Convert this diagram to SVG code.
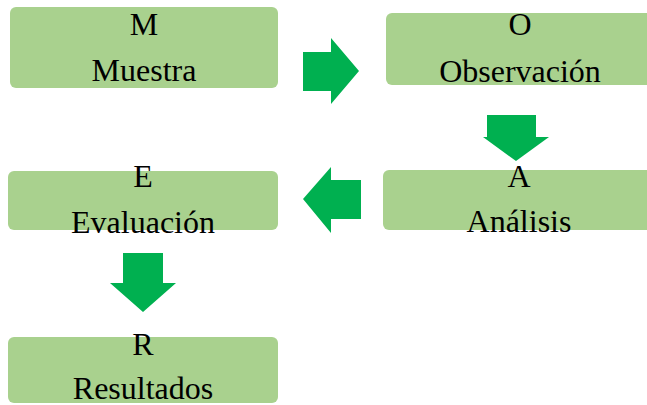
<svg xmlns="http://www.w3.org/2000/svg" width="647" height="405" viewBox="0 0 647 405">
<style>
.box{fill:#A9D18E}
.arr{fill:#00B050}
text{font-family:"Liberation Serif","Times New Roman",serif;font-size:32px;fill:#000;text-anchor:middle}
</style>
<rect width="647" height="405" fill="#fff"/>
<g id="connectors">
<polygon class="arr" points="303,52 331,52 331,38 359,71 331,104 331,91 303,91"/>
<polygon class="arr" points="487,115 536,115 536,137 549,137 516,161 483,137 487,137"/>
<polygon class="arr" points="361,180 331,180 331,167 303,199 331,233 331,219 361,219"/>
<polygon class="arr" points="123,253 163,253 163,283 176,283 143,312 110,283 123,283"/>
</g>
<g id="node-M">
<rect class="box" x="10" y="7" width="268" height="81" rx="6"/>
<text x="144" y="35">M</text>
<text x="144" y="81">Muestra</text>
</g>
<g id="node-O">
<rect class="box" x="386" y="13" width="270" height="72" rx="6"/>
<text x="520" y="35">O</text>
<text x="520" y="82">Observación</text>
</g>
<g id="node-A">
<rect class="box" x="383" y="170" width="273" height="60" rx="6"/>
<text x="519" y="187">A</text>
<text x="519" y="232">Análisis</text>
</g>
<g id="node-E">
<rect class="box" x="8" y="171" width="270" height="59" rx="6"/>
<text x="143" y="187">E</text>
<text x="143" y="233">Evaluación</text>
</g>
<g id="node-R">
<rect class="box" x="8" y="337" width="270" height="66" rx="6"/>
<text x="143" y="355">R</text>
<text x="143" y="399">Resultados</text>
</g>
</svg>
